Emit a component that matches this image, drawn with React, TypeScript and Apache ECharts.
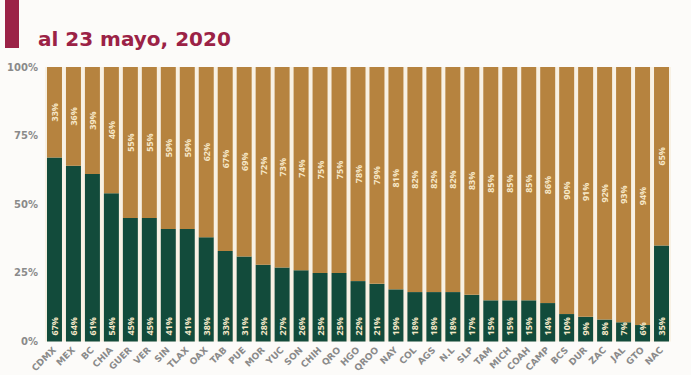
import React, { useEffect, useRef } from "react";
import * as echarts from "echarts";

const categories = ["CDMX","MEX","BC","CHIA","GUER","VER","SIN","TLAX","OAX","TAB","PUE","MOR","YUC","SON","CHIH","QRO","HGO","QROO","NAY","COL","AGS","N.L","SLP","TAM","MICH","COAH","CAMP","BCS","DUR","ZAC","JAL","GTO","NAC"];
const bottomValues = [67,64,61,54,45,45,41,41,38,33,31,28,27,26,25,25,22,21,19,18,18,18,17,15,15,15,14,10,9,8,7,6,35];
const topValues = [33,36,39,46,55,55,59,59,62,67,69,72,73,74,75,75,78,79,81,82,82,82,83,85,85,85,86,90,91,92,93,94,65];
const yTicks = [0, 25, 50, 75, 100];
const title = "al 23 mayo, 2020";

export default function App() {
  const ref = useRef<HTMLDivElement>(null);
  useEffect(() => {
    if (!ref.current) return;
    const chart = echarts.init(ref.current, undefined, { renderer: "svg" });
    const labelFont = { fontFamily: "Open Sans", fontWeight: "bold" as const, fontSize: 9, color: "#f6e8c8" };
    chart.setOption({
      animation: false,
      backgroundColor: "#fcfbf9",
      grid: { left: 45, right: 20, top: 67, bottom: 29, show: true, backgroundColor: "#f8f1e4", borderWidth: 0 },
      graphic: [
        { type: "rect", left: 5, top: 0, shape: { width: 14, height: 48 }, style: { fill: "#9b2246" } },
        { type: "text", left: 38, top: 29, style: { text: title, fill: "#9b2246", font: "bold 20px 'DejaVu Sans'" } },
      ],
      xAxis: {
        type: "category",
        data: categories,
        axisLine: { show: false },
        axisTick: { show: false },
        axisLabel: { rotate: 45, interval: 0, color: "#8a8a8a", fontFamily: "DejaVu Sans", fontWeight: "bold", fontSize: 9, margin: 7 },
      },
      yAxis: {
        type: "value",
        min: yTicks[0],
        max: yTicks[yTicks.length - 1],
        interval: 25,
        splitLine: { show: false },
        axisLabel: { formatter: "{value}%", color: "#8a8a8a", fontFamily: "DejaVu Sans", fontWeight: "bold", fontSize: 10, margin: 7 },
      },
      series: [
        {
          type: "bar",
          stack: "s",
          data: bottomValues,
          barWidth: "79%",
          itemStyle: { color: "#124b3b" },
          label: { show: true, position: "insideBottom", rotate: 90, align: "left", verticalAlign: "middle", distance: 6, formatter: "{c}%", ...labelFont },
        },
        {
          type: "bar",
          stack: "s",
          data: topValues,
          barWidth: "79%",
          itemStyle: { color: "#b6833f" },
          label: { show: true, position: "inside", rotate: 90, formatter: "{c}%", ...labelFont },
        },
      ],
    });
    return () => chart.dispose();
  }, []);
  return <div ref={ref} style={{ width: 691, height: 375, position: "absolute", left: 0, top: 0 }} />;
}
